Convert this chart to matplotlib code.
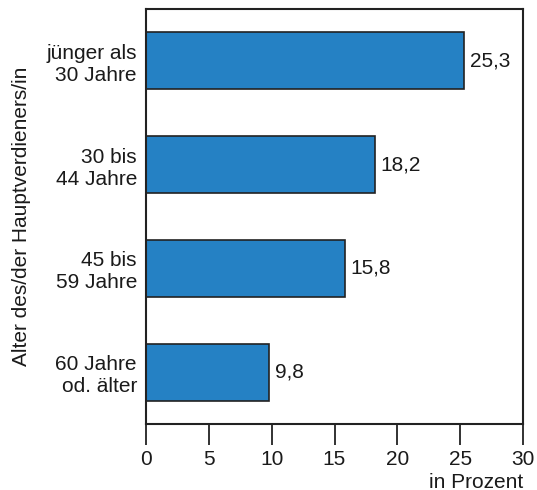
import matplotlib
matplotlib.use("Agg")
import matplotlib.pyplot as plt

plt.rcParams['font.family'] = ['Liberation Sans', 'DejaVu Sans']

categories = ["jünger als\n30 Jahre", "30 bis\n44 Jahre", "45 bis\n59 Jahre", "60 Jahre\nod. älter"]
values = [25.3, 18.2, 15.8, 9.8]
x_ticks = [0, 5, 10, 15, 20, 25, 30]

FS = 15
TXT = "#1a1a1a"

fig = plt.figure(figsize=(5.37, 4.90), dpi=100)
ax = fig.add_axes([146/537, 1 - 424/490, 377/537, 415/490])

ypos = list(range(len(categories)))
ax.barh(ypos, values, height=0.55, color="#2581C4", edgecolor="#222222", linewidth=1.2)
for y, v in zip(ypos, values):
    ax.text(v + 0.45, y, f"{v:.1f}".replace(".", ","), va="center", ha="left",
            fontsize=FS, color=TXT)

ax.set_xlim(0, 30)
ax.set_ylim(3.5, -0.5)
ax.set_yticks(ypos)
ax.set_yticklabels(categories, fontsize=FS, color=TXT, ha="right",
                   multialignment="right", linespacing=1.2)
ax.set_xticks(x_ticks)
ax.set_xticklabels([str(t) for t in x_ticks], fontsize=FS, color=TXT)
ax.tick_params(axis="y", length=0, pad=6.5)
ax.tick_params(axis="x", length=15, width=1.3, color="#222222", pad=4)

for s in ax.spines.values():
    s.set_linewidth(1.5)
    s.set_color("#222222")

ax.set_ylabel("Alter des/der Hauptverdieners/in", fontsize=FS, color=TXT, labelpad=11)
fig.text(523/537, 1 - 482/490, "in Prozent", ha="right", va="center", fontsize=FS, color=TXT)

fig.savefig("out.png", dpi=100)
